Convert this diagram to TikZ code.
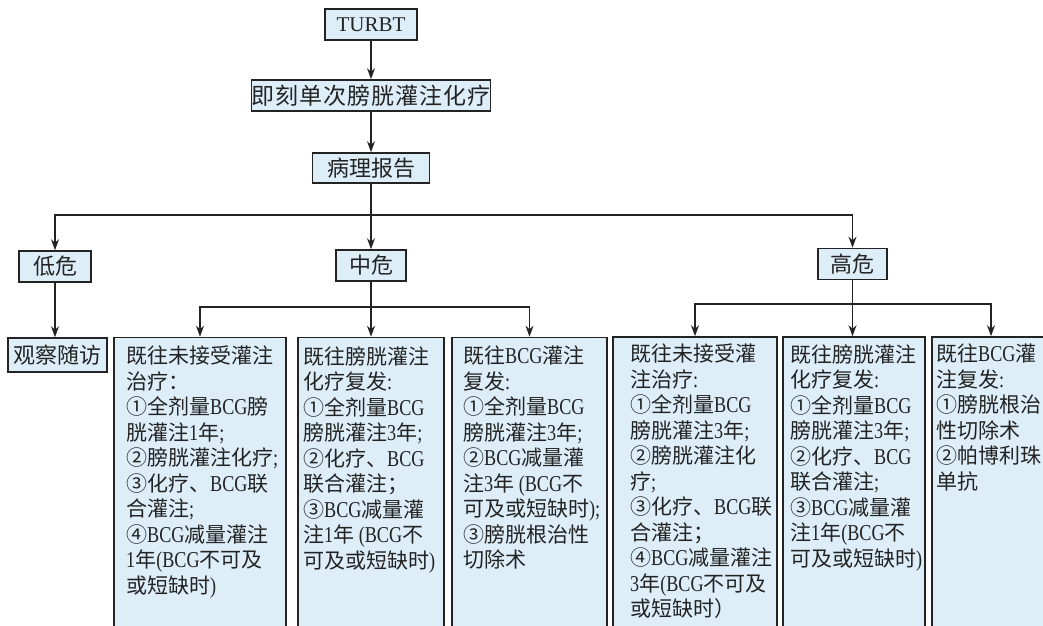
\documentclass[tikz,border=0pt]{standalone}
\usepackage{fontspec}
\setmainfont{Noto Sans CJK SC}
\newfontfamily\latf[Scale=1.08,FakeStretch=0.8]{Liberation Serif}
\newfontfamily\latbig{Liberation Serif}
\newcommand\LT[1]{{\latf #1}}
\usetikzlibrary{arrows.meta}
\definecolor{boxfill}{RGB}{221,238,249}
\definecolor{ink}{RGB}{35,35,35}
\begin{document}
\begin{tikzpicture}[x=1pt,y=-1pt,
  box/.style={draw=ink, line width=1.6pt, fill=boxfill, inner sep=0pt, text=ink,
              font=\fontsize{22}{26}\selectfont},
  bigbox/.style={draw=ink, line width=1.6pt, fill=boxfill, inner sep=0pt,
              minimum height=320pt},
  arr/.style={draw=ink, line width=1.4pt, -{Stealth[length=11pt,width=8pt]}},
  txt/.style={anchor=north west, inner sep=0pt, align=left, text=ink,
              font=\fontsize{21}{25.5}\selectfont}]
\useasboundingbox (0,0) rectangle (1043,625);
\clip (0,0) rectangle (1043,625);

% top chain
\node[box, minimum width=92pt, minimum height=31pt] (turbt) at (371,24.5) {\fontsize{21}{25}\latbig TURBT};
\node[box, minimum width=237pt, minimum height=31pt] (jike) at (371,95.5)
  {\fontsize{23}{26}\selectfont 即\kern1pt 刻\kern1pt 单\kern1pt 次\kern1pt 膀\kern1pt 胱\kern1pt 灌\kern1pt 注\kern1pt 化\kern1pt 疗};
\node[box, minimum width=117pt, minimum height=30pt] (bl) at (371,168) {病理报告};

% risk level
\node[box, minimum width=72pt, minimum height=31pt] (di) at (55,266.5) {低危};
\node[box, minimum width=70pt, minimum height=31pt] (zhong) at (371,265.5) {中危};
\node[box, minimum width=69pt, minimum height=31pt] (gao) at (852.5,264) {高危};

\node[box, minimum width=99pt, minimum height=34pt] (guan) at (57.5,355) {观察随访};

% big boxes
\node[bigbox, minimum width=172pt] (A) at (200,497.5) {};
\node[bigbox, minimum width=146pt] (B) at (371,497.5) {};
\node[bigbox, minimum width=155pt] (C) at (529.5,497.5) {};
\node[bigbox, minimum width=164pt] (D) at (695,497) {};
\node[bigbox, minimum width=142pt] (E) at (854,497) {};
\node[bigbox, minimum width=118pt] (F) at (991,497) {};

\node[txt] (tA) at (126,346) {既往未接受灌注\\
治疗：\\
①全剂量\LT{BCG}膀\\
胱灌注\LT{1}年\LT{;}\\
②膀胱灌注化疗\LT{;}\\
③化疗、\LT{BCG}联\\
合灌注\LT{;}\\
④\LT{BCG}减量灌注\\
\LT{1}年\LT{(BCG}不可及\\
或短缺时\LT{)}};

\node[txt] (tB) at (303,346) {既往膀胱灌注\\
化疗复发\LT{:}\\
①全剂量\LT{BCG}\\
膀胱灌注\LT{3}年\LT{;}\\
②化疗、\LT{BCG}\\
联合灌注；\\
③\LT{BCG}减量灌\\
注\LT{1}年\LT{ (BCG}不\\
可及或短缺时\LT{)}};

\node[txt] (tC) at (463,346) {既往\LT{BCG}灌注\\
复发\LT{:}\\
①全剂量\LT{BCG}\\
膀胱灌注\LT{3}年\LT{;}\\
②\LT{BCG}减量灌\\
注\LT{3}年\LT{ (BCG}不\\
可及或短缺时\LT{);}\\
③膀胱根治性\\
切除术};

\node[txt] (tD) at (630,344) {既往未接受灌\\
注治疗\LT{:}\\
①全剂量\LT{BCG}\\
膀胱灌注\LT{3}年\LT{;}\\
②膀胱灌注化\\
疗\LT{;}\\
③化疗、\LT{BCG}联\\
合灌注；\\
④\LT{BCG}减量灌注\\
\LT{3}年\LT{(BCG}不可及\\
或短缺时）};

\node[txt] (tE) at (790,344) {既往膀胱灌注\\
化疗复发\LT{:}\\
①全剂量\LT{BCG}\\
膀胱灌注\LT{3}年\LT{;}\\
②化疗、\LT{BCG}\\
联合灌注\LT{;}\\
③\LT{BCG}减量灌\\
注\LT{1}年\LT{(BCG}不\\
可及或短缺时\LT{)}};

\node[txt] (tF) at (936,344) {既往\LT{BCG}灌\\
注复发\LT{:}\\
①膀胱根治\\
性切除术\\
②帕博利珠\\
单抗};

% connectors
\draw[arr] (turbt) -- (jike);
\draw[arr] (jike) -- (bl);
\draw[arr] (bl) -- (zhong);
\coordinate (jt) at (371,215);
\draw[arr] (jt) -| (di.north);
\draw[arr] (jt) -| (gao.north);
\draw[arr] (di.south) -- (di.south |- guan.north);

\coordinate (jz) at (371,307);
\draw[arr] (zhong) -- (B.north);
\draw[arr] (jz) -| (A.north);
\draw[arr] (jz) -| (C.north);

\coordinate (jg) at (852.5,304);
\draw[arr] (gao.south) -- (gao.south |- E.north);
\draw[arr] (jg) -| (D.north);
\draw[arr] (jg) -| (F.north);
\end{tikzpicture}
\end{document}
